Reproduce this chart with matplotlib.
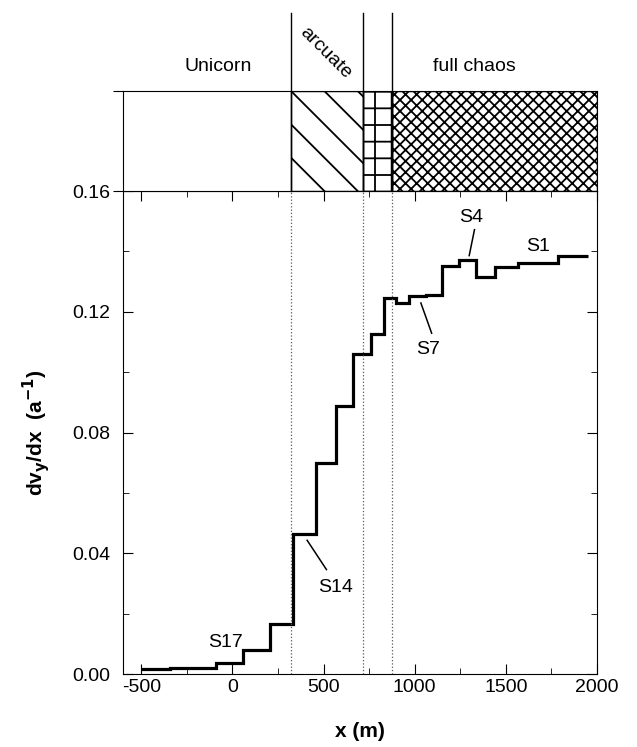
import matplotlib.pyplot as plt
from matplotlib.ticker import MultipleLocator

plt.rcParams['font.family'] = ['Liberation Sans', 'DejaVu Sans']
plt.rcParams['hatch.linewidth'] = 1.3
plt.rcParams['axes.unicode_minus'] = False

# step profile of dv_y/dx along the flow line
x_edges = [-500, -340, -88, 60, 205, 335, 457, 567, 660, 760, 833, 897,
           970, 1061, 1149, 1244, 1336, 1440, 1564, 1784, 1950]
dvdx = [0.0015, 0.002, 0.0038, 0.008, 0.0167, 0.0463, 0.0698, 0.0888,
        0.106, 0.1127, 0.1246, 0.1229, 0.1251, 0.1257, 0.1353, 0.1373,
        0.1314, 0.1347, 0.1362, 0.1384]

# zone boundaries (m)
zone_bounds = [320, 715, 875]
zone_names = ['Unicorn', 'arcuate', 'full chaos']

# station labels: (name, text x, text y, leader start, leader end)
stations = [
    ('S4', 1311, 0.1512, (1328, 0.1472), (1299, 0.1386)),
    ('S1', 1675, 0.1416, None, None),
    ('S7', 1074, 0.1074, (1093, 0.1129), (1034, 0.1229)),
    ('S14', 564, 0.0288, (516, 0.0346), (410, 0.0443)),
    ('S17', -40, 0.0106, None, None),
]

fig = plt.figure(figsize=(6.37, 7.47), dpi=100)
ax = fig.add_axes([0.1931, 0.0977, 0.7441, 0.6466])
axt = fig.add_axes([0.1931, 0.7443, 0.7441, 0.1339], sharex=ax)

# main panel
ax.stairs(dvdx, x_edges, color='black', linewidth=2.3, baseline=None)
for b in zone_bounds:
    ax.axvline(b, color='0.35', linestyle=':', linewidth=0.9)

ax.set_xlim(-600, 2000)
ax.set_ylim(0, 0.16)
ax.xaxis.set_major_locator(MultipleLocator(500))
ax.xaxis.set_minor_locator(MultipleLocator(250))
ax.yaxis.set_major_locator(MultipleLocator(0.04))
ax.yaxis.set_minor_locator(MultipleLocator(0.02))
ax.yaxis.set_major_formatter(lambda v, p: f'{v:.2f}')
ax.tick_params(which='both', direction='in', top=True, right=True,
               labelsize=14)
ax.tick_params(which='major', length=7)
ax.tick_params(which='minor', length=4)
ax.tick_params(axis='y', pad=9)
ax.set_xlabel('x (m)', fontsize=15, fontweight='bold', labelpad=19)
ax.set_ylabel('dv$_\\mathbf{y}$/dx  (a$^\\mathbf{-1}$)', fontsize=15,
              fontweight='bold', labelpad=15)

for name, tx, ty, p0, p1 in stations:
    ax.text(tx, ty, name, fontsize=14, ha='center', va='center')
    if p0 is not None:
        ax.plot([p0[0], p1[0]], [p0[1], p1[1]], color='black', linewidth=1.1)

# top panel with zones
axt.set_ylim(0, 1)
axt.axvspan(zone_bounds[0], zone_bounds[1], facecolor='none',
            edgecolor='black', hatch='\\', linewidth=1)
axt.axvspan(zone_bounds[1], zone_bounds[2], facecolor='none',
            edgecolor='black', hatch='+', linewidth=1)
axt.axvspan(zone_bounds[2], 2000, facecolor='none',
            edgecolor='black', hatch='xxx', linewidth=1)
for b in zone_bounds:
    axt.axvline(b, ymin=0, ymax=1.78, color='black', linewidth=1,
                clip_on=False)
axt.tick_params(axis='x', which='both', bottom=False, top=False,
                labelbottom=False)
axt.set_yticks([0, 1])
axt.tick_params(axis='y', direction='out', length=7, labelleft=False)

axt.text(-80, 1.24, zone_names[0], fontsize=14, ha='center', va='center')
axt.text(510, 1.38, zone_names[1], fontsize=14, ha='center', va='center',
         rotation=-45)
axt.text(1330, 1.24, zone_names[2], fontsize=14, ha='center', va='center')

plt.savefig('out.png')
plt.close()
